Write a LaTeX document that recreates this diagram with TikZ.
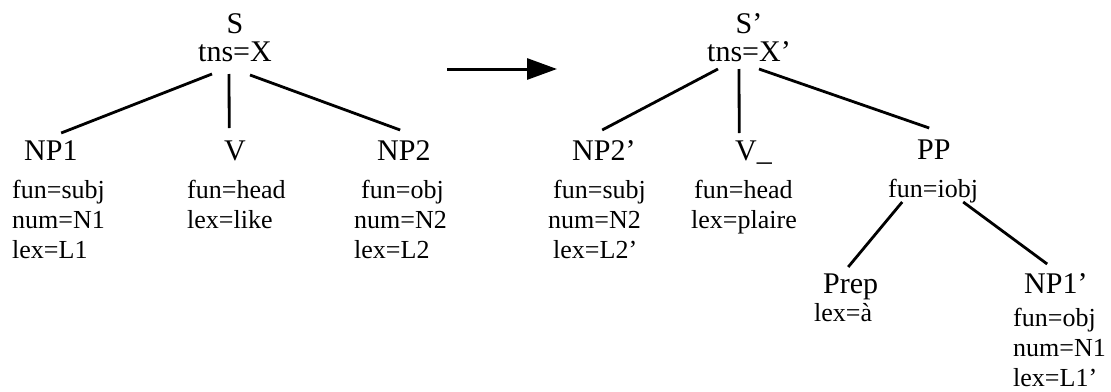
\documentclass[tikz,border=0pt]{standalone}
\usepackage{fontspec}
\setmainfont{Liberation Serif}
\usetikzlibrary{arrows.meta}
\newcommand{\featlist}[1]{\begin{tabular}[t]{@{}l@{}}#1\end{tabular}}
\newcommand{\rootlabel}[1]{\begin{tabular}[b]{@{}c@{}}#1\end{tabular}}
\begin{document}
\begin{tikzpicture}[x=1pt,y=-1pt,
  cat/.style={font=\fontsize{30}{27.5}\selectfont, inner sep=0pt, anchor=base west},
  feat/.style={font=\fontsize{26}{30}\selectfont, inner sep=0pt, anchor=base west},
  branch/.style={line width=2.8pt},
  maps/.style={line width=3pt, -{Triangle[length=30pt,width=21pt]}}
]
\path[use as bounding box] (0,0) rectangle (1111,391);

% ---- source structure: S -> NP1 V NP2
\node[cat, anchor=base] (s) at (235,61.5) {\rootlabel{S\\tns=X}};
\node[cat] (np1) at (24,160) {NP1};
\node[cat] (v) at (224,160) {V};
\node[cat] (np2) at (377,160) {NP2};
\node[feat] (np1f) at (12,198) {\featlist{fun=subj\\num=N1\\lex=L1}};
\node[feat] (vf) at (187,198) {\featlist{fun=head\\lex=like}};
\node[feat] (np2f) at (354,198) {\featlist{\hspace*{7pt}fun=obj\\num=N2\\lex=L2}};

\draw[branch] ([shift={(-23,12.5)}]s.base) -- ([shift={(10.3,-27)}]np1.base);
\draw[branch] ([shift={(-6,12.5)}]s.base) -- ([shift={(-5.8,-32)}]v.base);
\draw[branch] ([shift={(15,13.5)}]s.base) -- ([shift={(-3.7,-30)}]np2.base);

% ---- transfer arrow
\coordinate (from) at (447,69);
\coordinate (to) at (557,69);
\draw[maps] (from) -- (to);

% ---- target structure: S' -> NP2' V_ PP(Prep NP1')
\node[cat, anchor=base] (s2) at (749,61.5) {\rootlabel{S’\\tns=X’}};
\node[cat] (np2p) at (572,160) {NP2’};
\node[cat] (v2) at (735,160) {V\textunderscore};
\node[cat] (pp) at (917,159) {PP};
\node[feat] (np2pf) at (548,198) {\featlist{\hspace*{5pt}fun=subj\\num=N2\\\hspace*{5pt}lex=L2’}};
\node[feat] (v2f) at (691,198) {\featlist{\hspace*{3pt}fun=head\\lex=plaire}};
\node[feat] (ppf) at (888,197) {fun=iobj};
\node[cat] (prep) at (823,293) {Prep};
\node[feat] (prepf) at (814,321) {lex=à};
\node[cat] (np1p) at (1024,293) {NP1’};
\node[feat] (np1pf) at (1013,326) {\featlist{fun=obj\\num=N1\\lex=L1’}};

\draw[branch] ([shift={(-31,7.5)}]s2.base) -- ([shift={(-1.7,-30)}]np2p.base);
\draw[branch] ([shift={(-10,7.5)}]s2.base) -- ([shift={(-14.3,-27)}]v2.base);
\draw[branch] ([shift={(10,7.5)}]s2.base) -- ([shift={(-4.7,-31)}]pp.base);
\draw[branch] ([shift={(-30.9,5)}]ppf.base) -- ([shift={(-2.5,-26)}]prep.base);
\draw[branch] ([shift={(30.1,5)}]ppf.base) -- ([shift={(-8.7,-29)}]np1p.base);
\end{tikzpicture}
\end{document}
